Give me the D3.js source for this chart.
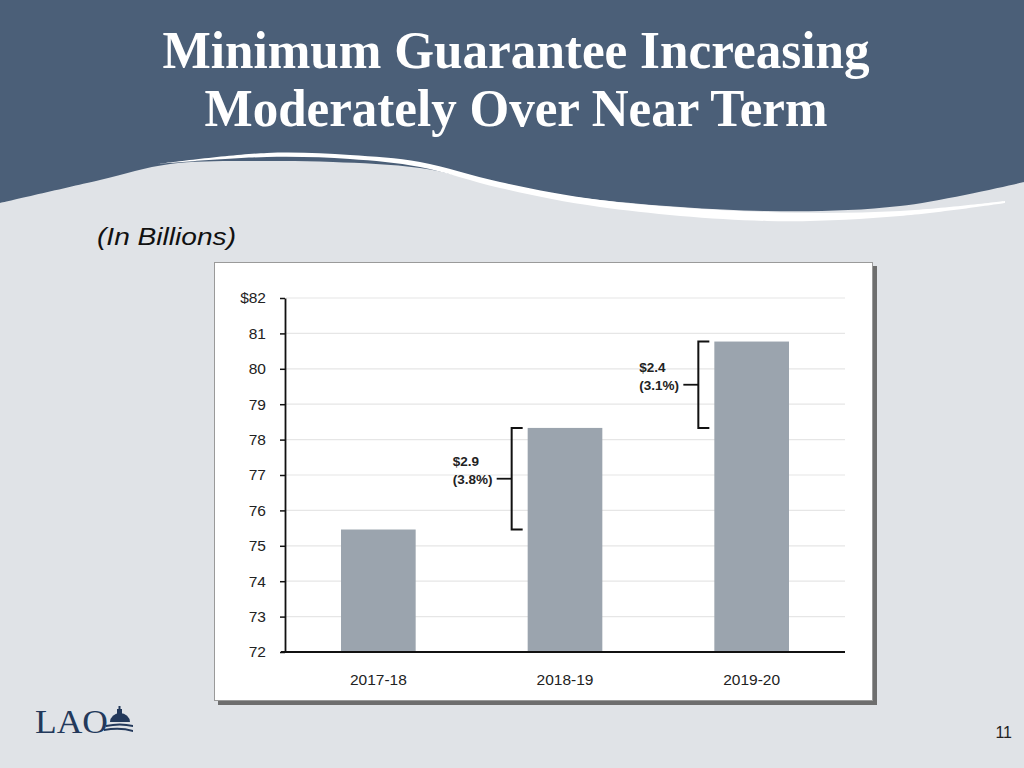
<!DOCTYPE html>
<html>
<head>
<meta charset="utf-8">
<script src="https://cdn.jsdelivr.net/npm/d3@7"></script>
<style>
  body { margin: 0; background: #e0e3e7; }
  svg { display: block; }
</style>
</head>
<body>
<div id="chart"></div>
<script>
// chart values
var years = ["2017-18", "2018-19", "2019-20"];
var guarantee = [75.46, 78.33, 80.77];
var changeAmount = ["$2.9", "$2.4"];
var changePercent = ["(3.8%)", "(3.1%)"];
var yTicks = [72, 73, 74, 75, 76, 77, 78, 79, 80, 81, 82];
var titleLines = ["Minimum Guarantee Increasing", "Moderately Over Near Term"];

var svgWidth = 1024;
var svgHeight = 768;

var svg = d3.select("#chart")
  .append("svg")
  .attr("width", svgWidth)
  .attr("height", svgHeight);

// slide background
svg.append("rect")
  .attr("width", svgWidth)
  .attr("height", svgHeight)
  .attr("fill", "#e0e3e7");

var curve = d3.line().curve(d3.curveCatmullRom);

// dark header with wavy bottom edge
var headerEdge = [[1024, 182], [900, 206], [767, 211], [600, 200], [500, 185], [420, 168],
  [333, 162], [267, 161], [170, 164], [100, 180], [0, 203]];
svg.append("path")
  .attr("d", "M0,0 H1024 V182 " + curve(headerEdge).replace(/^M/, "L") + " Z")
  .attr("fill", "#4b5f78");

// white swoosh
var swooshTop = [[158, 164], [267, 153], [350, 155], [420, 162], [500, 182], [600, 200],
  [767, 212], [900, 211], [1005, 201]];
var swooshBottom = [[1005, 203], [900, 216], [767, 221], [600, 207], [500, 188], [420, 167],
  [350, 159], [267, 157], [158, 164]];
svg.append("path")
  .attr("d", curve(swooshTop) + curve(swooshBottom).replace(/^M/, "L") + " Z")
  .attr("fill", "#ffffff");

// title
svg.selectAll(".title")
  .data(titleLines)
  .enter()
  .append("text")
  .attr("class", "title")
  .attr("x", 516)
  .attr("y", (d, i) => i === 0 ? 68 : 126)
  .attr("text-anchor", "middle")
  .attr("textLength", (d, i) => i === 0 ? 707 : 623)
  .attr("lengthAdjust", "spacingAndGlyphs")
  .style("font-family", "'Liberation Serif', 'Times New Roman', serif")
  .style("font-weight", "bold")
  .style("font-size", "52px")
  .attr("fill", "#ffffff")
  .text(d => d);

svg.append("text")
  .attr("x", 97)
  .attr("y", 245)
  .attr("textLength", 139)
  .attr("lengthAdjust", "spacingAndGlyphs")
  .style("font-family", "'Liberation Sans', Arial, sans-serif")
  .style("font-style", "italic")
  .style("font-size", "24px")
  .attr("fill", "#111")
  .text("(In Billions)");

// chart frame with shadow
svg.append("rect")
  .attr("x", 218).attr("y", 266)
  .attr("width", 659).attr("height", 439)
  .attr("fill", "#6e6e6e");
svg.append("rect")
  .attr("x", 214.5).attr("y", 262.5)
  .attr("width", 658).attr("height", 438)
  .attr("fill", "#ffffff")
  .attr("stroke", "#9a9a9a")
  .attr("stroke-width", 1);

// scales
var yScale = d3.scaleLinear()
  .domain([72, 82])
  .range([652, 298]);

var xScale = d3.scaleBand()
  .domain(years)
  .range([285, 845])
  .paddingInner(0.6)
  .paddingOuter(0.3);

var chartGroup = svg.append("g");

// gridlines
chartGroup.selectAll(".grid")
  .data(yTicks.slice(1))
  .enter()
  .append("line")
  .attr("x1", 286)
  .attr("x2", 845)
  .attr("y1", d => yScale(d))
  .attr("y2", d => yScale(d))
  .attr("stroke", "#e6e6e6")
  .attr("stroke-width", 1.2);

// bars
chartGroup.selectAll(".bar")
  .data(guarantee)
  .enter()
  .append("rect")
  .attr("x", (d, i) => xScale(years[i]))
  .attr("y", d => yScale(d))
  .attr("width", xScale.bandwidth())
  .attr("height", d => yScale(72) - yScale(d))
  .attr("fill", "#9ba4ae");

// y axis
var yAxis = d3.axisLeft(yScale)
  .tickValues(yTicks)
  .tickSize(5)
  .tickSizeOuter(0)
  .tickPadding(14)
  .tickFormat(d => d === 82 ? "$82" : d);

var yAxisGroup = chartGroup.append("g")
  .attr("transform", "translate(285,0)")
  .call(yAxis);
yAxisGroup.select(".domain").attr("stroke", "#111").attr("stroke-width", 1.8);
yAxisGroup.selectAll(".tick line").attr("stroke", "#111").attr("stroke-width", 1.5);
yAxisGroup.selectAll("text")
  .style("font-family", "'Liberation Sans', Arial, sans-serif")
  .style("font-size", "15.5px")
  .attr("fill", "#222");

// x axis
var xAxis = d3.axisBottom(xScale)
  .tickSize(0)
  .tickPadding(22);

var xAxisGroup = chartGroup.append("g")
  .attr("transform", "translate(0,652)")
  .call(xAxis);
xAxisGroup.select(".domain").remove();
xAxisGroup.selectAll("text")
  .style("font-family", "'Liberation Sans', Arial, sans-serif")
  .style("font-size", "15.5px")
  .attr("fill", "#222");

chartGroup.append("line")
  .attr("x1", 281)
  .attr("x2", 845)
  .attr("y1", yScale(72))
  .attr("y2", yScale(72))
  .attr("stroke", "#111")
  .attr("stroke-width", 2);

// change brackets
var changes = changeAmount.map((d, i) => ({
  amount: d,
  percent: changePercent[i],
  from: guarantee[i],
  to: guarantee[i + 1],
  year: years[i + 1]
}));

var bracket = chartGroup.selectAll(".bracket")
  .data(changes)
  .enter()
  .append("g")
  .attr("class", "bracket");

bracket.append("path")
  .attr("d", d => {
    var bx = xScale(d.year) - 16;
    return "M" + (bx + 11) + "," + yScale(d.to) + " H" + bx +
      " V" + yScale(d.from) + " H" + (bx + 11);
  })
  .attr("fill", "none")
  .attr("stroke", "#111")
  .attr("stroke-width", 2);

bracket.append("line")
  .attr("x1", d => xScale(d.year) - 16)
  .attr("x2", d => xScale(d.year) - 31)
  .attr("y1", d => (yScale(d.to) + yScale(d.from)) / 2)
  .attr("y2", d => (yScale(d.to) + yScale(d.from)) / 2)
  .attr("stroke", "#111")
  .attr("stroke-width", 1.8);

bracket.append("text")
  .attr("x", d => xScale(d.year) - 75)
  .attr("y", d => (yScale(d.to) + yScale(d.from)) / 2 - 13)
  .style("font-family", "'Liberation Sans', Arial, sans-serif")
  .style("font-size", "13.5px")
  .style("font-weight", "bold")
  .attr("fill", "#222")
  .text(d => d.amount);

bracket.append("text")
  .attr("x", d => xScale(d.year) - 75)
  .attr("y", d => (yScale(d.to) + yScale(d.from)) / 2 + 5)
  .style("font-family", "'Liberation Sans', Arial, sans-serif")
  .style("font-size", "13.5px")
  .style("font-weight", "bold")
  .attr("fill", "#222")
  .text(d => d.percent);

// LAO logo
var logo = svg.append("g").attr("fill", "#23395b");
logo.append("text")
  .attr("x", 35)
  .attr("y", 733)
  .attr("textLength", 73)
  .attr("lengthAdjust", "spacingAndGlyphs")
  .style("font-family", "'Liberation Serif', 'Times New Roman', serif")
  .style("font-size", "34px")
  .text("LAO");
logo.append("path")
  .attr("d", "M110,722 A10,9 0 0 1 130,722 Z");
logo.append("rect").attr("x", 117).attr("y", 709).attr("width", 5).attr("height", 5);
logo.append("rect").attr("x", 118.5).attr("y", 706).attr("width", 2).attr("height", 4);
logo.append("path")
  .attr("d", "M106,725 Q120,722 133,725 L133,727 Q120,724 106,727 Z M104,729 Q120,726 133,730 L133,732 Q120,728 104,731 Z")
  .attr("fill", "#23395b");

// page number
svg.append("text")
  .attr("x", 1012)
  .attr("y", 738)
  .attr("text-anchor", "end")
  .style("font-family", "'Liberation Sans', Arial, sans-serif")
  .style("font-size", "16px")
  .attr("fill", "#222")
  .text("11");
</script>
</body>
</html>
